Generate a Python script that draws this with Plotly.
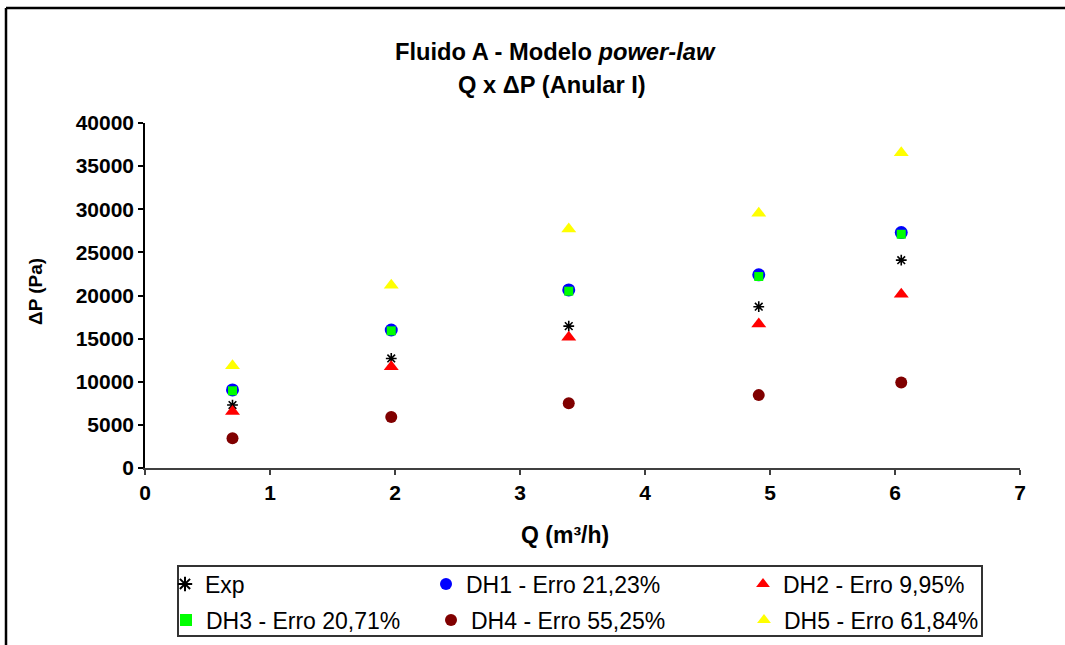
import plotly.graph_objects as go

# ---- data ----
Q = [0.70, 1.97, 3.39, 4.91, 6.05]
exp_dp = [7300, 12700, 16450, 18700, 24100]
dh1_dp = [9050, 16000, 20650, 22400, 27300]
dh2_dp = [6550, 11750, 15150, 16700, 20150]
dh3_dp = [8950, 15900, 20500, 22200, 27100]
dh4_dp = [3450, 5900, 7500, 8450, 9900]
dh5_dp = [11850, 21200, 27700, 29550, 36550]

names = ["Exp", "DH1 - Erro 21,23%", "DH2 - Erro 9,95%",
         "DH3 - Erro 20,71%", "DH4 - Erro 55,25%", "DH5 - Erro 61,84%"]
series = [exp_dp, dh1_dp, dh2_dp, dh3_dp, dh4_dp, dh5_dp]

x_ticks = [0, 1, 2, 3, 4, 5, 6, 7]
y_ticks = [0, 5000, 10000, 15000, 20000, 25000, 30000, 35000, 40000]

# ---- geometry (pixels) ----
W, H = 1065, 645
L, R, T, B = 145, 1020, 123, 468
pw, ph = R - L, B - T
def px(x): return (x - L) / pw
def py(y): return (B - y) / ph

FONT = "Liberation Sans, Arial, sans-serif"

styles = [
    dict(symbol="asterisk-open", size=9, color="black", line=dict(color="black", width=1.6)),
    dict(symbol="circle", size=13, color="#0000FF"),
    dict(symbol="triangle-up", size=13, color="#FF0000"),
    dict(symbol="square", size=9, color="#00FF00"),
    dict(symbol="circle", size=12, color="#800000"),
    dict(symbol="triangle-up", size=13, color="#FFFF00"),
]
legend_ids = ["legend", "legend3", "legend5", "legend2", "legend4", "legend6"]

fig = go.Figure()
for name, ys, st, lid in zip(names, series, styles, legend_ids):
    fig.add_trace(go.Scatter(x=Q, y=ys, mode="markers", name=name,
                             marker=st, legend=lid, cliponaxis=False))

# legend positions: (text left px, row center px)
leg_pos = {
    "legend": (205, 584), "legend3": (466, 584), "legend5": (783, 584),
    "legend2": (206, 620), "legend4": (471, 620), "legend6": (784, 620),
}
leg_layout = {}
for lid, (tx, ty) in leg_pos.items():
    leg_layout[lid] = dict(x=px(tx - 40), y=py(ty), xanchor="left", yanchor="middle",
                           xref="paper", yref="paper", bgcolor="rgba(0,0,0,0)",
                           font=dict(family=FONT, size=23, color="black"),
                           itemsizing="constant")

fig.update_layout(
    width=W, height=H,
    margin=dict(l=L, r=W - R, t=T, b=H - B, pad=0, autoexpand=False),
    paper_bgcolor="white", plot_bgcolor="white",
    showlegend=True,
    xaxis=dict(range=[0, 7], tickvals=x_ticks, ticktext=[str(v) for v in x_ticks],
               showgrid=False, zeroline=False, showline=True, linecolor="#404040",
               linewidth=2, ticks="outside", ticklen=5, tickcolor="#404040", tickwidth=1.5,
               tickfont=dict(family=FONT, size=21, color="black", weight="bold"),
               fixedrange=True),
    yaxis=dict(range=[0, 40000], tickvals=y_ticks, ticktext=[str(v) for v in y_ticks],
               showgrid=False, zeroline=False, showline=True, linecolor="black",
               linewidth=1.5, ticks="outside", ticklen=5, tickcolor="black", tickwidth=1.5,
               tickfont=dict(family=FONT, size=21, color="black", weight="bold"),
               fixedrange=True),
    **leg_layout,
)

# titles
fig.add_annotation(text="<b>Fluido A - Modelo <i>power-law</i></b>", x=px(555), y=py(52),
                   xref="paper", yref="paper", showarrow=False, xanchor="center", yanchor="middle",
                   font=dict(family=FONT, size=23.7, color="black"))
fig.add_annotation(text="<b>Q x ΔP (Anular I)</b>", x=px(552), y=py(85),
                   xref="paper", yref="paper", showarrow=False, xanchor="center", yanchor="middle",
                   font=dict(family=FONT, size=23.7, color="black"))
fig.add_annotation(text="<b>Q (m³/h)</b>", x=px(565), y=py(535),
                   xref="paper", yref="paper", showarrow=False, xanchor="center", yanchor="middle",
                   font=dict(family=FONT, size=23, color="black"))
fig.add_annotation(text="<b>ΔP (Pa)</b>", x=px(35), y=py(291), textangle=-90,
                   xref="paper", yref="paper", showarrow=False, xanchor="center", yanchor="middle",
                   font=dict(family=FONT, size=19, color="black"))

# outer frame (top and left edges) and legend box
fig.add_shape(type="line", xref="paper", yref="paper", x0=px(6), x1=px(1070), y0=py(8), y1=py(8),
              line=dict(color="black", width=2.5))
fig.add_shape(type="line", xref="paper", yref="paper", x0=px(6), x1=px(6), y0=py(8), y1=py(650),
              line=dict(color="black", width=2.5))
fig.add_shape(type="rect", xref="paper", yref="paper", x0=px(178), x1=px(982), y0=py(636), y1=py(566),
              line=dict(color="#333333", width=2), layer="below")

fig.write_html("out.html", config={"displayModeBar": False},
               post_script="document.body.style.margin='0';")
